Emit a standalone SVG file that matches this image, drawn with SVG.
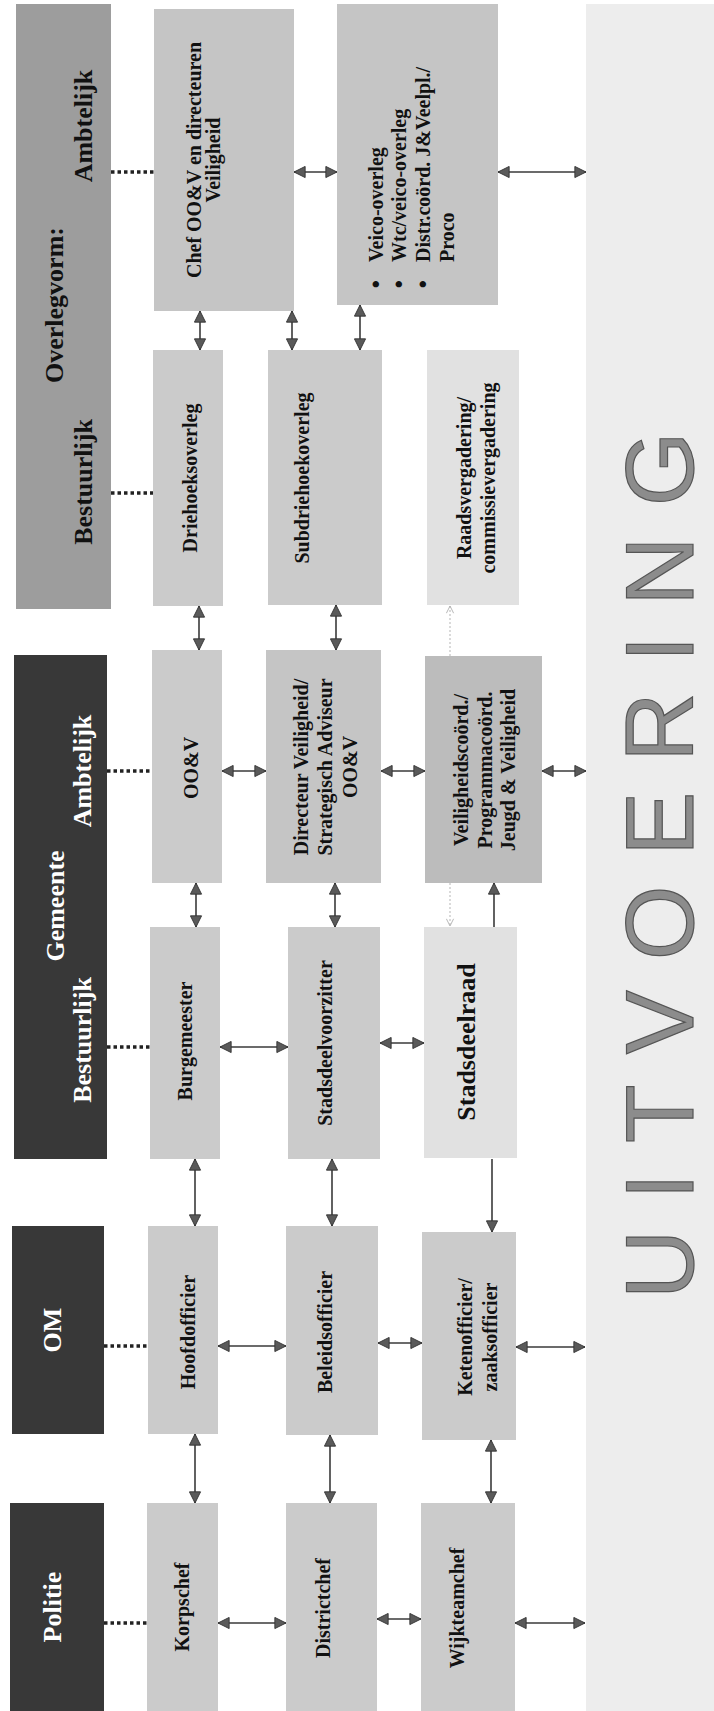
<svg xmlns="http://www.w3.org/2000/svg" width="714" height="1711" viewBox="0 0 714 1711">
<style>
.hd{fill:#383838}
.hg{fill:#9d9d9d}
.b{fill:#cbcbcb}
.b2{fill:#c5c5c5}
.b3{fill:#bcbcbc}
.bl{fill:#e1e1e1}
.t{font-family:"Liberation Serif","Times New Roman",serif;font-weight:bold;font-size:20px;fill:#111;text-anchor:middle}
.th{font-size:26px;fill:#fff}
.tk{font-size:26px;fill:#111}
.ls{text-anchor:start}
.bu{font-family:"Liberation Sans",Arial,sans-serif;font-size:22px}
.c{stroke:#3a3a3a;stroke-width:1.6;fill:none}
.d{stroke:#222;stroke-width:3.5;stroke-dasharray:3.5 3;fill:none}
.f{stroke:#b5b5b5;stroke-width:1;stroke-dasharray:2 2;fill:none}
.band{fill:#ededed}
.big{font-family:"Liberation Sans",Arial,sans-serif;font-size:96px;letter-spacing:30px;fill:#8c8c8c;stroke:#555;stroke-width:1.2}
</style>
<defs>
<marker id="ah" viewBox="0 0 14 14" refX="13" refY="7" markerWidth="13" markerHeight="13" markerUnits="userSpaceOnUse" orient="auto-start-reverse"><path d="M1,1 L13,7 L1,13 z" fill="#5a5a5a" stroke="#333" stroke-width="1"/></marker>
<marker id="ao" viewBox="0 0 10 10" refX="9" refY="5" markerWidth="9" markerHeight="9" markerUnits="userSpaceOnUse" orient="auto"><path d="M1,1 L9,5 L1,9" fill="none" stroke="#b0b0b0" stroke-width="1"/></marker>
</defs>
<rect width="714" height="1711" fill="#fff"/>

<g id="band">
<rect class="band" x="586" y="4" width="128" height="1707"/>
<text class="big" transform="translate(693,1299) rotate(-90)" x="0" y="0">UITVOERING</text>
</g>

<g id="hdr-overlegvorm">
<rect class="hg" x="16" y="4" width="95" height="605"/>
<text class="t tk" transform="translate(0,305) rotate(-90)"><tspan x="0" y="63">Overlegvorm:</tspan></text>
<text class="t tk" transform="translate(0,126) rotate(-90)"><tspan x="0" y="92">Ambtelijk</tspan></text>
<text class="t tk" transform="translate(0,482) rotate(-90)"><tspan x="0" y="92">Bestuurlijk</tspan></text>
</g>
<g id="hdr-gemeente">
<rect class="hd" x="14" y="655" width="93" height="504"/>
<text class="t th" transform="translate(0,906) rotate(-90)"><tspan x="0" y="64">Gemeente</tspan></text>
<text class="t th" transform="translate(0,771) rotate(-90)"><tspan x="0" y="91">Ambtelijk</tspan></text>
<text class="t th" transform="translate(0,1040) rotate(-90)"><tspan x="0" y="91">Bestuurlijk</tspan></text>
</g>
<g id="hdr-om">
<rect class="hd" x="12" y="1226" width="92" height="208"/>
<text class="t th" transform="translate(0,1330) rotate(-90)"><tspan x="0" y="61">OM</tspan></text>
</g>
<g id="hdr-politie">
<rect class="hd" x="10" y="1503" width="94" height="208"/>
<text class="t th" transform="translate(0,1607) rotate(-90)"><tspan x="0" y="61">Politie</tspan></text>
</g>

<g id="chef">
<rect class="b2" x="154" y="9" width="140" height="302"/>
<text class="t" transform="translate(0,160) rotate(-90)"><tspan x="0" y="201">Chef OO&amp;V en directeuren</tspan><tspan x="0" y="220">Veiligheid</tspan></text>
</g>
<g id="veico">
<rect class="b2" x="337" y="4" width="161" height="301"/>
<text class="t ls" transform="translate(0,305) rotate(-90)"><tspan class="bu" x="17" y="383">•</tspan><tspan x="43" y="383">Veico-overleg</tspan><tspan class="bu" x="17" y="406">•</tspan><tspan x="43" y="406">Wtc/veico-overleg</tspan><tspan class="bu" x="17" y="430">•</tspan><tspan x="43" y="430">Distr.coörd. J&amp;Veelpl./</tspan><tspan x="43" y="454">Proco</tspan></text>
</g>
<g id="driehoek">
<rect class="b" x="153" y="350" width="70" height="256"/>
<text class="t" transform="translate(0,478) rotate(-90)"><tspan x="0" y="197">Driehoeksoverleg</tspan></text>
</g>
<g id="subdriehoek">
<rect class="b" x="268" y="350" width="114" height="255"/>
<text class="t" transform="translate(0,478) rotate(-90)"><tspan x="0" y="309">Subdriehoekoverleg</tspan></text>
</g>
<g id="raadsvergadering">
<rect class="bl" x="427" y="350" width="92" height="255"/>
<text class="t" transform="translate(0,478) rotate(-90)"><tspan x="0" y="471">Raadsvergadering/</tspan><tspan x="0" y="495">commissievergadering</tspan></text>
</g>
<g id="oov">
<rect class="b" x="152" y="650" width="70" height="233"/>
<text class="t" transform="translate(0,768) rotate(-90)"><tspan x="0" y="198">OO&amp;V</tspan></text>
</g>
<g id="directeur">
<rect class="b2" x="266" y="650" width="115" height="233"/>
<text class="t" transform="translate(0,767) rotate(-90)"><tspan x="0" y="308">Directeur Veiligheid/</tspan><tspan x="0" y="332">Strategisch Adviseur</tspan><tspan x="0" y="357">OO&amp;V</tspan></text>
</g>
<g id="veiligheidscoord">
<rect class="b3" x="425" y="656" width="117" height="227"/>
<text class="t" transform="translate(0,770) rotate(-90)"><tspan x="0" y="468">Veiligheidscoörd./</tspan><tspan x="0" y="492">Programmacoörd.</tspan><tspan x="0" y="515">Jeugd &amp; Veiligheid</tspan></text>
</g>
<g id="burgemeester">
<rect class="b" x="150" y="927" width="70" height="232"/>
<text class="t" transform="translate(0,1041) rotate(-90)"><tspan x="0" y="192">Burgemeester</tspan></text>
</g>
<g id="stadsdeelvoorzitter">
<rect class="b" x="288" y="927" width="92" height="232"/>
<text class="t" transform="translate(0,1043) rotate(-90)"><tspan x="0" y="332">Stadsdeelvoorzitter</tspan></text>
</g>
<g id="stadsdeelraad">
<rect class="bl" x="424" y="927" width="93" height="231"/>
<text class="t tk" transform="translate(0,1042) rotate(-90)"><tspan x="0" y="475">Stadsdeelraad</tspan></text>
</g>
<g id="hoofdofficier">
<rect class="b" x="148" y="1226" width="70" height="208"/>
<text class="t" transform="translate(0,1332) rotate(-90)"><tspan x="0" y="195">Hoofdofficier</tspan></text>
</g>
<g id="beleidsofficier">
<rect class="b" x="286" y="1226" width="92" height="209"/>
<text class="t" transform="translate(0,1332) rotate(-90)"><tspan x="0" y="332">Beleidsofficier</tspan></text>
</g>
<g id="ketenofficier">
<rect class="b" x="422" y="1232" width="94" height="208"/>
<text class="t" transform="translate(0,1337) rotate(-90)"><tspan x="0" y="472">Ketenofficier/</tspan><tspan x="0" y="497">zaaksofficier</tspan></text>
</g>
<g id="korpschef">
<rect class="b" x="147" y="1503" width="71" height="208"/>
<text class="t" transform="translate(0,1607) rotate(-90)"><tspan x="0" y="189">Korpschef</tspan></text>
</g>
<g id="districtchef">
<rect class="b" x="286" y="1503" width="91" height="208"/>
<text class="t" transform="translate(0,1608) rotate(-90)"><tspan x="0" y="330">Districtchef</tspan></text>
</g>
<g id="wijkteamchef">
<rect class="b" x="421" y="1503" width="94" height="208"/>
<text class="t" transform="translate(0,1608) rotate(-90)"><tspan x="0" y="464">Wijkteamchef</tspan></text>
</g>

<g id="connectors">
<g marker-start="url(#ah)" marker-end="url(#ah)" class="c">
<path d="M294,172 H337"/>
<path d="M498,172 H586"/>
<path d="M222,771 H266"/>
<path d="M381,771 H425"/>
<path d="M542,771 H586"/>
<path d="M220,1047 H288"/>
<path d="M380,1043 H424"/>
<path d="M218,1346 H286"/>
<path d="M378,1343 H422"/>
<path d="M516,1347 H585"/>
<path d="M218,1623 H286"/>
<path d="M377,1619 H421"/>
<path d="M515,1623 H585"/>
<path d="M200,311 V350"/>
<path d="M292,311 V350"/>
<path d="M360,305 V350"/>
<path d="M199,606 V650"/>
<path d="M336,605 V650"/>
<path d="M196,883 V927"/>
<path d="M335,883 V927"/>
<path d="M195,1159 V1226"/>
<path d="M332,1159 V1226"/>
<path d="M195,1434 V1503"/>
<path d="M330,1435 V1503"/>
<path d="M491,1440 V1503"/>
</g>
<path class="c" d="M492,1159 V1232" marker-end="url(#ah)"/>
<path class="c" d="M494,927 V883" marker-end="url(#ah)"/>
<path class="f" d="M450,656 V606" marker-end="url(#ao)"/>
<path class="f" d="M450,883 V926" marker-end="url(#ao)"/>
<path class="d" d="M111,172 H154"/>
<path class="d" d="M111,493 H153"/>
<path class="d" d="M107,771 H152"/>
<path class="d" d="M107,1047 H150"/>
<path class="d" d="M104,1346 H148"/>
<path class="d" d="M104,1623 H147"/>
</g>
</svg>
